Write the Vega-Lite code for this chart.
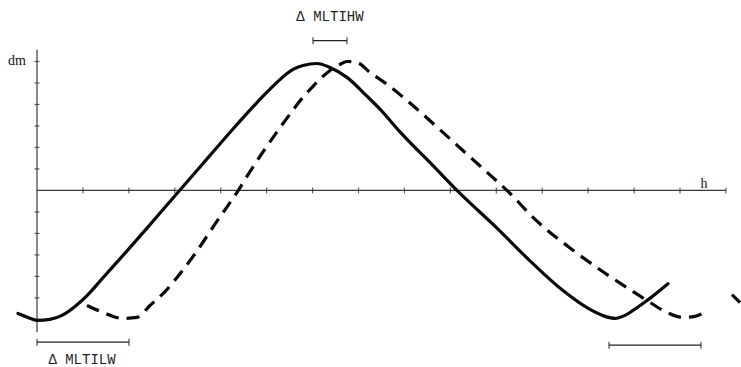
{
  "$schema": "https://vega.github.io/schema/vega-lite/v6.json",
  "width": 741,
  "height": 367,
  "padding": 0,
  "autosize": {"type": "fit", "contains": "padding"},
  "background": "white",
  "config": {"view": {"stroke": null}},
  "datasets": {
    "axes": [
      {"h": 0, "h2": 0, "dm": -6.6, "dm2": 6.55},
      {"h": 0, "h2": 15, "dm": 0, "dm2": 0}
    ],
    "xticks": [
      {"h": 1, "dm": 0}, {"h": 2, "dm": 0}, {"h": 3, "dm": 0}, {"h": 4, "dm": 0}, {"h": 5, "dm": 0},
      {"h": 6, "dm": 0}, {"h": 7, "dm": 0}, {"h": 8, "dm": 0}, {"h": 9, "dm": 0}, {"h": 10, "dm": 0},
      {"h": 11, "dm": 0}, {"h": 12, "dm": 0}, {"h": 13, "dm": 0}, {"h": 14, "dm": 0}, {"h": 15, "dm": 0}
    ],
    "yticks": [
      {"h": 0, "dm": 6}, {"h": 0, "dm": 5}, {"h": 0, "dm": 4}, {"h": 0, "dm": 3}, {"h": 0, "dm": 2}, {"h": 0, "dm": 1},
      {"h": 0, "dm": -1}, {"h": 0, "dm": -2}, {"h": 0, "dm": -3}, {"h": 0, "dm": -4}, {"h": 0, "dm": -5}, {"h": 0, "dm": -6}
    ],
    "curves": [
      {"s": "solid", "i": 1, "h": -0.414, "dm": -5.722},
      {"s": "solid", "i": 2, "h": -0.196, "dm": -5.907},
      {"s": "solid", "i": 3, "h": 0.0, "dm": -6.046},
      {"s": "solid", "i": 4, "h": 0.283, "dm": -6.0},
      {"s": "solid", "i": 5, "h": 0.544, "dm": -5.815},
      {"s": "solid", "i": 6, "h": 0.827, "dm": -5.399},
      {"s": "solid", "i": 7, "h": 1.089, "dm": -4.892},
      {"s": "solid", "i": 8, "h": 1.437, "dm": -4.061},
      {"s": "solid", "i": 9, "h": 1.96, "dm": -2.815},
      {"s": "solid", "i": 10, "h": 2.395, "dm": -1.754},
      {"s": "solid", "i": 11, "h": 2.83, "dm": -0.677},
      {"s": "solid", "i": 12, "h": 3.331, "dm": 0.554},
      {"s": "solid", "i": 13, "h": 3.767, "dm": 1.63},
      {"s": "solid", "i": 14, "h": 4.267, "dm": 2.861},
      {"s": "solid", "i": 15, "h": 4.964, "dm": 4.476},
      {"s": "solid", "i": 16, "h": 5.225, "dm": 5.03},
      {"s": "solid", "i": 17, "h": 5.574, "dm": 5.63},
      {"s": "solid", "i": 18, "h": 5.791, "dm": 5.815},
      {"s": "solid", "i": 19, "h": 6.096, "dm": 5.907},
      {"s": "solid", "i": 20, "h": 6.379, "dm": 5.722},
      {"s": "solid", "i": 21, "h": 6.749, "dm": 5.261},
      {"s": "solid", "i": 22, "h": 7.185, "dm": 4.384},
      {"s": "solid", "i": 23, "h": 7.468, "dm": 3.784},
      {"s": "solid", "i": 24, "h": 7.903, "dm": 2.723},
      {"s": "solid", "i": 25, "h": 8.622, "dm": 1.154},
      {"s": "solid", "i": 26, "h": 9.166, "dm": -0.046},
      {"s": "solid", "i": 27, "h": 10.015, "dm": -1.754},
      {"s": "solid", "i": 28, "h": 10.734, "dm": -3.276},
      {"s": "solid", "i": 29, "h": 11.452, "dm": -4.661},
      {"s": "solid", "i": 30, "h": 12.04, "dm": -5.538},
      {"s": "solid", "i": 31, "h": 12.367, "dm": -5.861},
      {"s": "solid", "i": 32, "h": 12.584, "dm": -5.953},
      {"s": "solid", "i": 33, "h": 12.802, "dm": -5.815},
      {"s": "solid", "i": 34, "h": 12.976, "dm": -5.584},
      {"s": "solid", "i": 35, "h": 13.281, "dm": -5.122},
      {"s": "solid", "i": 36, "h": 13.738, "dm": -4.338},
      {"s": "dashed", "i": 1, "h": 1.089, "dm": -5.353},
      {"s": "dashed", "i": 2, "h": 1.437, "dm": -5.676},
      {"s": "dashed", "i": 3, "h": 1.872, "dm": -5.953},
      {"s": "dashed", "i": 4, "h": 2.177, "dm": -5.907},
      {"s": "dashed", "i": 5, "h": 2.46, "dm": -5.353},
      {"s": "dashed", "i": 6, "h": 2.787, "dm": -4.707},
      {"s": "dashed", "i": 7, "h": 3.113, "dm": -3.877},
      {"s": "dashed", "i": 8, "h": 3.484, "dm": -2.815},
      {"s": "dashed", "i": 9, "h": 3.875, "dm": -1.569},
      {"s": "dashed", "i": 10, "h": 4.354, "dm": -0.092},
      {"s": "dashed", "i": 11, "h": 4.637, "dm": 0.877},
      {"s": "dashed", "i": 12, "h": 5.225, "dm": 2.723},
      {"s": "dashed", "i": 13, "h": 5.508, "dm": 3.553},
      {"s": "dashed", "i": 14, "h": 5.791, "dm": 4.338},
      {"s": "dashed", "i": 15, "h": 6.009, "dm": 4.845},
      {"s": "dashed", "i": 16, "h": 6.205, "dm": 5.261},
      {"s": "dashed", "i": 17, "h": 6.379, "dm": 5.584},
      {"s": "dashed", "i": 18, "h": 6.597, "dm": 5.861},
      {"s": "dashed", "i": 19, "h": 6.749, "dm": 5.999},
      {"s": "dashed", "i": 20, "h": 6.967, "dm": 5.953},
      {"s": "dashed", "i": 21, "h": 7.25, "dm": 5.491},
      {"s": "dashed", "i": 22, "h": 7.62, "dm": 4.938},
      {"s": "dashed", "i": 23, "h": 8.273, "dm": 3.784},
      {"s": "dashed", "i": 24, "h": 8.992, "dm": 2.4},
      {"s": "dashed", "i": 25, "h": 9.71, "dm": 1.015},
      {"s": "dashed", "i": 26, "h": 10.255, "dm": -0.046},
      {"s": "dashed", "i": 27, "h": 10.886, "dm": -1.431},
      {"s": "dashed", "i": 28, "h": 11.605, "dm": -2.677},
      {"s": "dashed", "i": 29, "h": 12.323, "dm": -3.784},
      {"s": "dashed", "i": 30, "h": 12.911, "dm": -4.615},
      {"s": "dashed", "i": 31, "h": 13.281, "dm": -5.122},
      {"s": "dashed", "i": 32, "h": 13.717, "dm": -5.676},
      {"s": "dashed", "i": 33, "h": 14.065, "dm": -5.907},
      {"s": "dashed", "i": 34, "h": 14.326, "dm": -5.861},
      {"s": "dashed", "i": 35, "h": 14.587, "dm": -5.584},
      {"s": "dashed_r", "i": 1, "h": 15.132, "dm": -4.845},
      {"s": "dashed_r", "i": 2, "h": 15.306, "dm": -5.215}
    ],
    "bars": [
      {"h": 6.009, "h2": 6.749, "dm": 6.968},
      {"h": 0.0, "h2": 2.003, "dm": -7.06},
      {"h": 12.454, "h2": 14.457, "dm": -7.2}
    ],
    "caps": [
      {"h": 6.009, "dm": 6.968}, {"h": 6.749, "dm": 6.968},
      {"h": 0.0, "dm": -7.06}, {"h": 2.003, "dm": -7.06},
      {"h": 12.454, "dm": -7.2}, {"h": 14.457, "dm": -7.2}
    ],
    "monoLabels": [
      {"h": 6.379, "dm": 8.076, "text": "Δ MLTIHW"},
      {"h": 0.98, "dm": -7.89, "text": "Δ MLTILW"}
    ],
    "serifLabels": [
      {"h": -0.435, "dm": 6.0, "text": "dm"},
      {"h": 14.52, "dm": 0.32, "text": "h"}
    ]
  },
  "encoding": {
    "x": {"field": "h", "type": "quantitative", "axis": null, "scale": {"domain": [-0.8056, 15.328], "nice": false, "zero": false}},
    "y": {"field": "dm", "type": "quantitative", "axis": null, "scale": {"domain": [-8.076, 8.861], "nice": false, "zero": false}}
  },
  "layer": [
    {
      "data": {"name": "axes"},
      "mark": {"type": "rule", "color": "#3a3a3a", "strokeWidth": 1.2},
      "encoding": {"x2": {"field": "h2"}, "y2": {"field": "dm2"}}
    },
    {
      "data": {"name": "xticks"},
      "mark": {"type": "tick", "orient": "vertical", "color": "#222", "size": 6, "thickness": 1.2},
      "encoding": {}
    },
    {
      "data": {"name": "yticks"},
      "mark": {"type": "tick", "orient": "horizontal", "color": "#222", "size": 5, "thickness": 1.2},
      "encoding": {}
    },
    {
      "data": {"name": "curves"},
      "transform": [{"filter": "datum.s === 'solid'"}],
      "mark": {"type": "line", "color": "#0a0a0a", "strokeWidth": 3.2, "interpolate": "monotone", "strokeCap": "round"},
      "encoding": {"order": {"field": "i", "type": "quantitative"}}
    },
    {
      "data": {"name": "curves"},
      "transform": [{"filter": "datum.s !== 'solid'"}],
      "mark": {"type": "line", "color": "#0a0a0a", "strokeWidth": 3.2, "interpolate": "monotone", "strokeDash": [13, 8], "clip": true},
      "encoding": {"detail": {"field": "s"}, "order": {"field": "i", "type": "quantitative"}}
    },
    {
      "data": {"name": "bars"},
      "mark": {"type": "rule", "color": "#222", "strokeWidth": 1.3},
      "encoding": {"x2": {"field": "h2"}}
    },
    {
      "data": {"name": "caps"},
      "mark": {"type": "tick", "orient": "vertical", "color": "#222", "size": 7, "thickness": 1.4},
      "encoding": {}
    },
    {
      "data": {"name": "monoLabels"},
      "mark": {"type": "text", "font": "Liberation Mono", "fontSize": 14, "color": "#222", "align": "center", "baseline": "middle"},
      "encoding": {"text": {"field": "text"}}
    },
    {
      "data": {"name": "serifLabels"},
      "mark": {"type": "text", "font": "Liberation Serif", "fontSize": 14, "color": "#111", "align": "center", "baseline": "middle"},
      "encoding": {"text": {"field": "text"}}
    }
  ]
}
